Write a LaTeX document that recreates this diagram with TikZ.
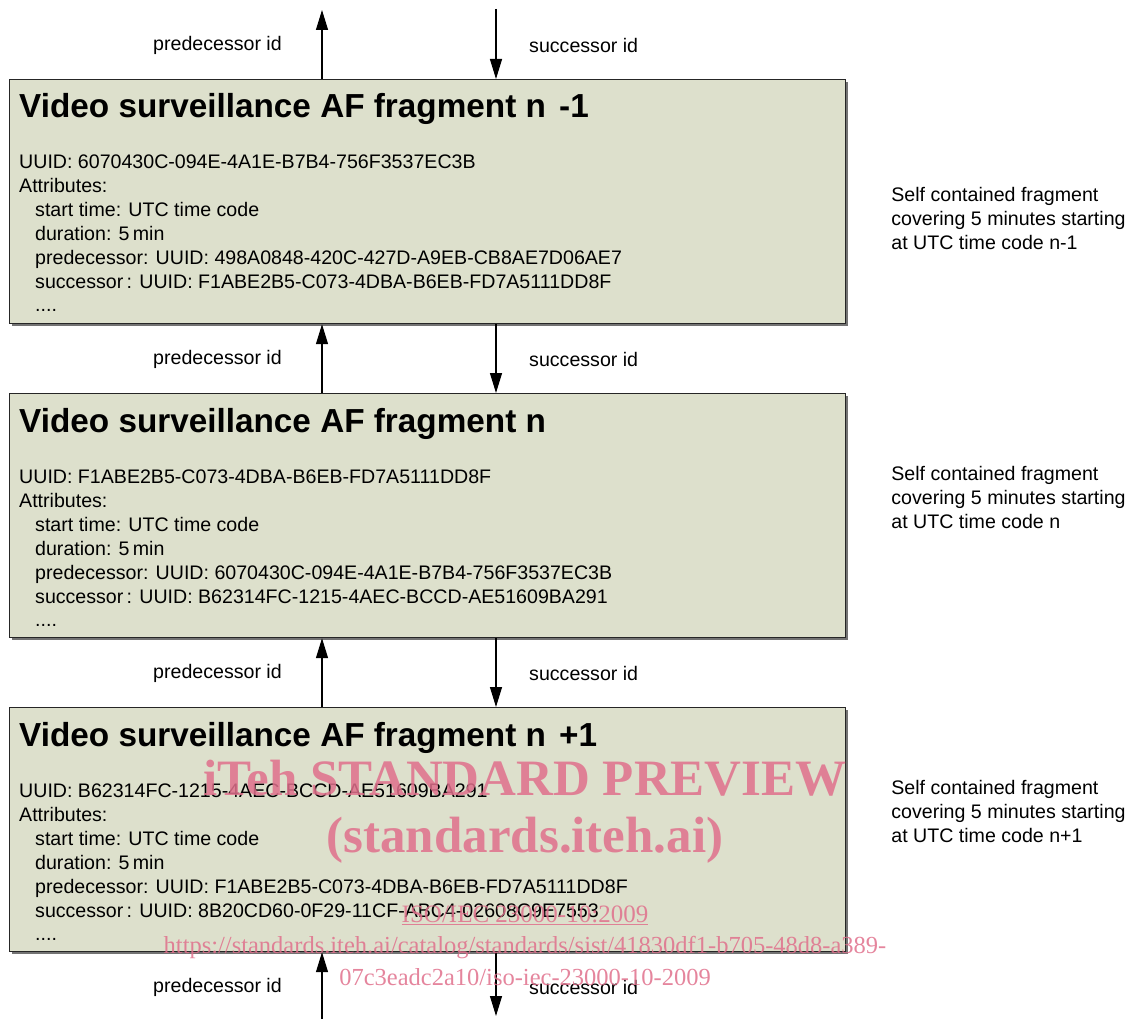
\documentclass[tikz,border=0pt]{standalone}
\usepackage{fontspec}
\setmainfont{Liberation Sans}
\newfontfamily\wmfont{Liberation Serif}
\usetikzlibrary{arrows.meta,positioning,shadows}
\definecolor{fragfill}{RGB}{221,224,204}
\definecolor{wmpink}{RGB}{224,112,140}

\begin{document}
\begin{tikzpicture}[x=1pt,y=-1pt]
        \tikzset{
            frag/.style={draw=black!85,line width=1.2pt,fill=fragfill,anchor=north west,
                minimum width=836pt,minimum height=244pt,inner sep=0pt,
                drop shadow={shadow xshift=2.5pt,shadow yshift=-2.5pt,fill=black!55,opacity=1}},
            fragtitle/.style={anchor=base west,inner sep=0pt,font=\fontsize{33.3}{36}\selectfont\bfseries},
            fragline/.style={anchor=base west,inner sep=0pt,font=\fontsize{19.6}{24}\selectfont},
            sidenote/.style={anchor=base west,inner sep=0pt,font=\fontsize{19.6}{24}\selectfont},
            idlabel/.style={anchor=west,inner sep=0pt,font=\fontsize{19.6}{24}\selectfont},
            idarrow/.style={-{Triangle[length=20pt,width=12pt]},line width=1.2pt},
            wmark/.style={anchor=base,inner sep=0pt,text=wmpink,text opacity=0.85}
        }
        \useasboundingbox (0,0) rectangle (1136,1019);
        % the three fragments
        \foreach \k/\top/\noteoff/\fragtag/\uid/\pre/\suc/\code in {
            A/79/123/{n\kern4pt\ -1}/6070430C-094E-4A1E-B7B4-756F3537EC3B/498A0848-420C-427D-A9EB-CB8AE7D06AE7/F1ABE2B5-C073-4DBA-B6EB-FD7A5111DD8F/n-1,
            B/393/87/n/F1ABE2B5-C073-4DBA-B6EB-FD7A5111DD8F/6070430C-094E-4A1E-B7B4-756F3537EC3B/B62314FC-1215-4AEC-BCCD-AE51609BA291/n,
            C/707/87/{n\kern4pt\ +1}/B62314FC-1215-4AEC-BCCD-AE51609BA291/F1ABE2B5-C073-4DBA-B6EB-FD7A5111DD8F/8B20CD60-0F29-11CF-ABC4-02608C9E7553/n+1}
        {
            \node[frag] (box\k) at (9,\top) {};
            \node[fragtitle] (title\k) at ([shift={(10,39)}]box\k.north west) {Video surveillance AF fragment \fragtag};
            \node[fragline] (uuid\k) at ([shift={(10,90)}]box\k.north west) {UUID: \uid};
            \node[fragline] (attr\k) at ([shift={(10,114)}]box\k.north west) {Attributes:};
            \node[fragline] (start\k) at ([shift={(26,138)}]box\k.north west) {start time: UTC time code};
            \node[fragline] (dur\k) at ([shift={(26,162)}]box\k.north west) {duration: 5\,min};
            \node[fragline] (pre\k) at ([shift={(26,186)}]box\k.north west) {predecessor: UUID: \pre};
            \node[fragline] (suc\k) at ([shift={(26,210)}]box\k.north west) {successor\,: UUID: \suc};
            \node[fragline] (etc\k) at ([shift={(26,233)}]box\k.north west) {....};
            \node[sidenote] (selfA\k) at ([shift={(45,\noteoff)}]box\k.north east) {Self contained fragment};
            \node[sidenote] (selfB\k) at ([shift={(45,\noteoff+24)}]box\k.north east) {covering 5 minutes starting};
            \node[sidenote] (selfC\k) at ([shift={(45,\noteoff+48)}]box\k.north east) {at UTC time code \code};
            \node[idlabel] (predlbl\k) at ([shift={(144,-34)}]box\k.north west) {predecessor id};
            \node[idlabel] (succlbl\k) at ([shift={(520,-34)}]box\k.north west) {successor id};
            \coordinate (pin\k) at ([xshift=313pt]box\k.north west);
            \coordinate (sin\k) at ([xshift=487pt]box\k.north west);
        }
        \node[idlabel] (predlblD) at ([shift={(144,35)}]boxC.south west) {predecessor id};
        \node[idlabel] (succlblD) at ([shift={(520,35)}]boxC.south west) {successor id};
        % id links
        \coordinate (topP) at (322,10);
        \coordinate (topS) at (496,9);
        \coordinate (botP) at (322,1019);
        \coordinate (botS) at (496,1016);
        \draw[idarrow] (pinA) -- (topP);
        \draw[idarrow] (topS) -- (sinA);
        \foreach \a/\b in {A/B,B/C} {
            \draw[idarrow] (pin\b) -- (pin\b |- box\a.south);
            \draw[idarrow] (sin\b |- box\a.south) -- (sin\b);
        }
        \draw[idarrow] (botP) -- (pinC |- boxC.south);
        \draw[idarrow] (sinC |- boxC.south) -- (botS);
        % watermark
        \node[wmark,font=\wmfont\bfseries\fontsize{51}{51}\selectfont] (wmA) at (525,795) {iTeh STANDARD PREVIEW};
        \node[wmark,font=\wmfont\bfseries\fontsize{51}{51}\selectfont] (wmB) at (525,852) {(standards.iteh.ai)};
        \node[wmark,font=\wmfont\fontsize{25}{25}\selectfont] (wmC) at (525,922) {\underline{ISO/IEC 23000-10:2009}};
        \node[wmark,font=\wmfont\fontsize{24.5}{25}\selectfont] (wmD) at (525,953) {https://standards.iteh.ai/catalog/standards/sist/41830df1-b705-48d8-a389-};
        \node[wmark,font=\wmfont\fontsize{24.5}{25}\selectfont] (wmE) at (525,985) {07c3eadc2a10/iso-iec-23000-10-2009};
\end{tikzpicture}
\end{document}
